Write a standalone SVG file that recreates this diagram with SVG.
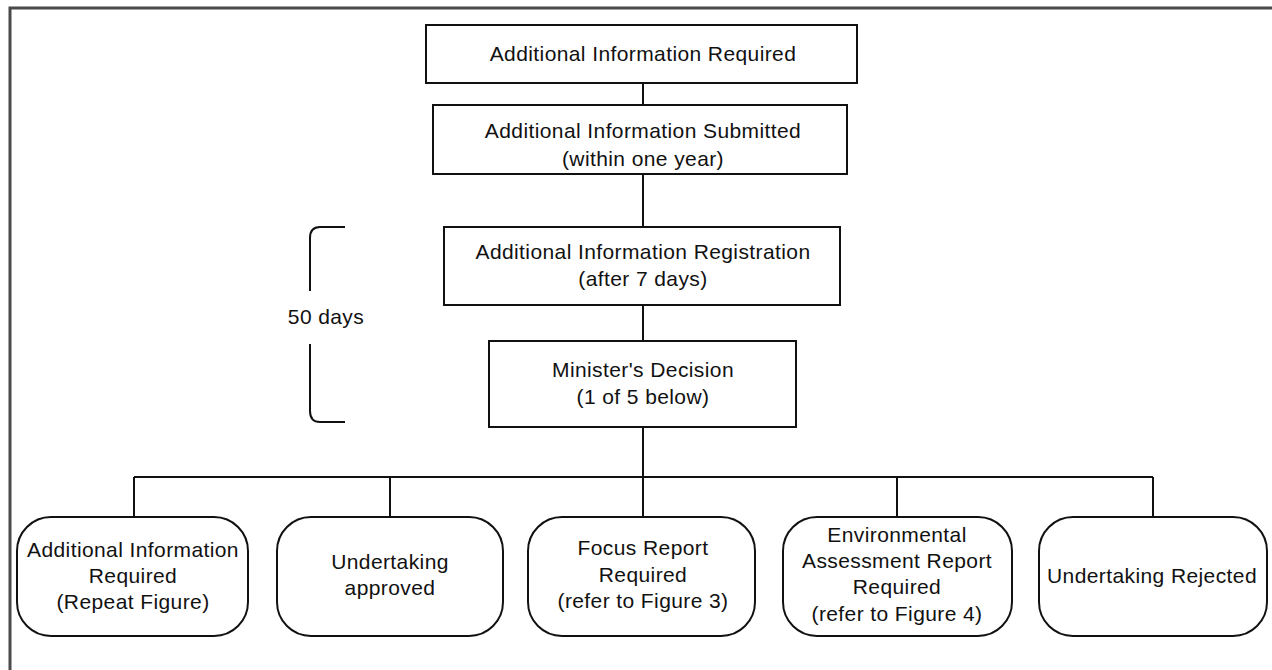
<svg xmlns="http://www.w3.org/2000/svg" width="1272" height="670" viewBox="0 0 1272 670">
<style>
.box{fill:#fff;stroke:#111;stroke-width:2}
.ln{fill:none;stroke:#111;stroke-width:2}
text{font-family:"Liberation Sans",Arial,sans-serif;font-size:21px;letter-spacing:0.4px;fill:#111;text-anchor:middle}
</style>
<rect width="1272" height="670" fill="#fff"/>
<path d="M10,670 V8 H1272" fill="none" stroke="#4a4a4a" stroke-width="3"/>
<g id="connectors">
<path class="ln" d="M643,83 V105 M643,174 V227 M643,305 V341 M643,427 V477 M134,477 H1153 M134,477 V517 M390,477 V517 M643,477 V517 M897,477 V517 M1153,477 V517"/>
</g>
<g id="bracket">
<path class="ln" d="M345,227 H320 Q310,227 310,238 V291 M310,344 V411 Q310,422 320,422 H345"/>
<text x="326" y="324">50 days</text>
</g>
<g id="n1">
<rect class="box" x="426" y="25" width="431" height="58"/>
<text x="643" y="61">Additional Information Required</text>
</g>
<g id="n2">
<rect class="box" x="433" y="105" width="414" height="69"/>
<text x="643" y="138">Additional Information Submitted</text>
<text x="643" y="166">(within one year)</text>
</g>
<g id="n3">
<rect class="box" x="444" y="227" width="396" height="78"/>
<text x="643" y="259">Additional Information Registration</text>
<text x="643" y="286">(after 7 days)</text>
</g>
<g id="n4">
<rect class="box" x="489" y="341" width="307" height="86"/>
<text x="643" y="377">Minister's Decision</text>
<text x="643" y="404">(1 of 5 below)</text>
</g>
<g id="o1">
<rect class="box" x="17" y="517" width="231" height="119" rx="34"/>
<text x="133" y="557">Additional Information</text>
<text x="133" y="583">Required</text>
<text x="133" y="609">(Repeat Figure)</text>
</g>
<g id="o2">
<rect class="box" x="277" y="517" width="226" height="119" rx="34"/>
<text x="390" y="569">Undertaking</text>
<text x="390" y="595">approved</text>
</g>
<g id="o3">
<rect class="box" x="528" y="517" width="227" height="119" rx="34"/>
<text x="643" y="555">Focus Report</text>
<text x="643" y="582">Required</text>
<text x="643" y="608">(refer to Figure 3)</text>
</g>
<g id="o4">
<rect class="box" x="783" y="517" width="229" height="119" rx="34"/>
<text x="897" y="542">Environmental</text>
<text x="897" y="568">Assessment Report</text>
<text x="897" y="594">Required</text>
<text x="897" y="621">(refer to Figure 4)</text>
</g>
<g id="o5">
<rect class="box" x="1039" y="517" width="228" height="119" rx="34"/>
<text x="1152" y="583">Undertaking Rejected</text>
</g>
</svg>
